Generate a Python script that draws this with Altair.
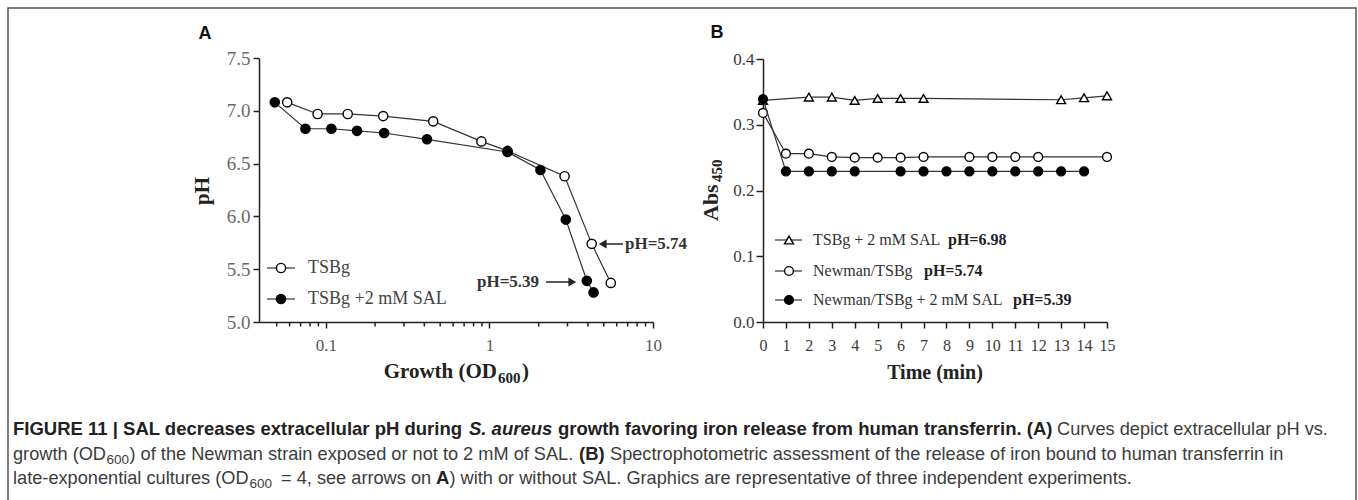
import altair as alt
import pandas as pd

# ---------------- Panel A data: pH vs growth (OD600) ----------------
a_tsbg_od = [0.058, 0.089, 0.136, 0.224, 0.453, 0.893, 1.29, 2.88, 4.22, 5.52]
a_tsbg_ph = [7.08, 6.97, 6.97, 6.95, 6.90, 6.71, 6.62, 6.38, 5.74, 5.37]
a_sal_od = [0.0487, 0.075, 0.108, 0.155, 0.227, 0.415, 1.29, 2.05, 2.93, 3.94, 4.33]
a_sal_ph = [7.08, 6.83, 6.83, 6.81, 6.79, 6.73, 6.61, 6.44, 5.97, 5.39, 5.28]
a_major_ticks = [0.1, 1, 10]
a_minor_ticks = [0.05, 0.06, 0.07, 0.08, 0.09, 0.2, 0.3, 0.4, 0.5, 0.6, 0.7, 0.8, 0.9,
                 2, 3, 4, 5, 6, 7, 8, 9]
a_y_ticks = [5.0, 5.5, 6.0, 6.5, 7.0, 7.5]

# ---------------- Panel B data: Abs450 vs time ----------------
b_tri_t = [0, 2, 3, 4, 5, 6, 7, 13, 14, 15]
b_tri_v = [0.337, 0.342, 0.342, 0.337, 0.340, 0.340, 0.340, 0.338, 0.341, 0.344]
b_open_t = [0, 1, 2, 3, 4, 5, 6, 7, 9, 10, 11, 12, 15]
b_open_v = [0.318, 0.256, 0.256, 0.251, 0.250, 0.250, 0.250, 0.251, 0.251, 0.251, 0.251, 0.251, 0.251]
b_fill_t = [0, 1, 2, 3, 4, 6, 7, 8, 9, 10, 11, 12, 13, 14]
b_fill_v = [0.339, 0.229, 0.229, 0.229, 0.229, 0.229, 0.229, 0.229, 0.229, 0.229, 0.229, 0.229, 0.229, 0.229]
b_x_ticks = list(range(0, 16))
b_y_ticks = [0.0, 0.1, 0.2, 0.3, 0.4]

dummy = pd.DataFrame({"d": [0]})
SERIF = "Liberation Serif"
SANS = "Liberation Sans"
INK = "#222222"

xA = alt.Scale(type="log", domain=[0.039, 10], range=[259, 653], nice=False)
yA = alt.Scale(domain=[5.0, 7.5], range=[322, 58], nice=False, zero=False)
xB = alt.Scale(domain=[0, 15], range=[763, 1107], nice=False, zero=False)
yB = alt.Scale(domain=[0, 0.4], range=[322, 59], nice=False, zero=False)

common_axis = dict(title=None, grid=False, tickWidth=1.5, tickColor=INK, domainColor=INK,
                   domainWidth=1.5, labelFont=SERIF, labelOverlap=False, labelFlush=False)

axA_x = alt.Axis(orient="bottom", offset=-178, values=a_major_ticks, format="~g", tickSize=6,
                 labelFontSize=17, labelColor="#555555", labelPadding=9, **common_axis)
axA_y = alt.Axis(orient="left", offset=-259, values=a_y_ticks, format=".1f", tickSize=6,
                 labelFontSize=19, labelColor="#6a6a6a", labelPadding=3, **common_axis)
axB_x = alt.Axis(orient="bottom", offset=-178, values=b_x_ticks, format="d", tickSize=6,
                 labelFontSize=16, labelColor="#3a3a3a", labelPadding=9, **common_axis)
axB_y = alt.Axis(orient="left", offset=-763, values=b_y_ticks, format=".1f", tickSize=7,
                 labelFontSize=17, labelColor="#3a3a3a", labelPadding=2, **common_axis)

LINE = dict(color="#333333", strokeWidth=1.2)


def series(df, xf, yf, xs, ys, shape, filled, size, axx=None, axy=None):
    line = alt.Chart(df).mark_line(**LINE).encode(
        x=alt.X(f"{xf}:Q", scale=xs, axis=axx),
        y=alt.Y(f"{yf}:Q", scale=ys, axis=axy),
    )
    pts = alt.Chart(df).mark_point(
        shape=shape, filled=True, fill=("black" if filled else "white"),
        stroke="black", strokeWidth=1.4, size=size, opacity=1,
    ).encode(
        x=alt.X(f"{xf}:Q", scale=xs, axis=None),
        y=alt.Y(f"{yf}:Q", scale=ys, axis=None),
    )
    return [line, pts]


def txt(s, x, y, size, font=SERIF, weight="normal", style="normal", color="#333333",
        align="left", baseline="alphabetic", angle=0):
    return alt.Chart(dummy).mark_text(
        text=s, align=align, baseline=baseline, font=font, fontSize=size,
        fontWeight=weight, fontStyle=style, color=color, angle=angle,
    ).encode(x=alt.value(x), y=alt.value(y))


def hline(x1, x2, y, color="#333333", width=1.2):
    return alt.Chart(dummy).mark_rule(color=color, strokeWidth=width).encode(
        x=alt.value(x1), x2=alt.value(x2), y=alt.value(y))


def sym(x, y, shape, fill, size, stroke="black"):
    return alt.Chart(dummy).mark_point(
        shape=shape, filled=True, fill=fill, stroke=stroke, strokeWidth=1.4, size=size, opacity=1,
    ).encode(x=alt.value(x), y=alt.value(y))


layers = []

# frame
layers.append(alt.Chart(dummy).mark_rect(fill=None, stroke="#555555", strokeWidth=1.5).encode(
    x=alt.value(8), x2=alt.value(1356), y=alt.value(8), y2=alt.value(600)))

# ---------------- Panel A ----------------
dfA1 = pd.DataFrame({"od": a_tsbg_od, "ph": a_tsbg_ph})
dfA2 = pd.DataFrame({"od": a_sal_od, "ph": a_sal_ph})
dfMinor = pd.DataFrame({"m": a_minor_ticks})
layers += series(dfA1, "od", "ph", xA, yA, "circle", False, 85, axA_x, axA_y)
layers += series(dfA2, "od", "ph", xA, yA, "circle", True, 85)
layers.append(alt.Chart(dfMinor).mark_rule(color=INK, strokeWidth=1.5).encode(
    x=alt.X("m:Q", scale=xA, axis=None), y=alt.value(322), y2=alt.value(326.5)))

layers.append(txt("A", 205, 34, 18, font=SANS, weight="bold", color="#111111",
                  align="center", baseline="middle"))
layers.append(txt("pH", 209, 191, 21, weight="bold", color="#222222", align="center",
                  baseline="alphabetic", angle=270))
layers.append(txt("Growth (OD", 497, 378, 21, weight="bold", color="#222222", align="right"))
layers.append(txt("600", 498, 383, 15, weight="bold", color="#222222", align="left"))
layers.append(txt(")", 522, 378, 21, weight="bold", color="#222222", align="left"))

# legend A
layers.append(hline(267, 295, 268))
layers.append(sym(281, 268, "circle", "white", 85))
layers.append(txt("TSBg", 308, 268, 18, color="#444444", baseline="middle"))
layers.append(hline(267, 295, 299))
layers.append(sym(281, 299, "circle", "black", 85))
layers.append(txt("TSBg +2 mM SAL", 308, 299, 18, color="#444444", baseline="middle"))

# annotations A
layers.append(hline(604, 623, 244, color="#222222", width=1.5))
layers.append(sym(603, 244, "triangle-left", "#222222", 45, stroke="#222222"))
layers.append(txt("pH=5.74", 625, 244, 17, weight="bold", color="#333333", baseline="middle"))
layers.append(hline(546, 571, 282, color="#222222", width=1.5))
layers.append(sym(572, 282, "triangle-right", "#222222", 45, stroke="#222222"))
layers.append(txt("pH=5.39", 477, 282, 17, weight="bold", color="#333333", baseline="middle"))

# ---------------- Panel B ----------------
dfB1 = pd.DataFrame({"t": b_tri_t, "v": b_tri_v})
dfB2 = pd.DataFrame({"t": b_open_t, "v": b_open_v})
dfB3 = pd.DataFrame({"t": b_fill_t, "v": b_fill_v})
layers += series(dfB1, "t", "v", xB, yB, "triangle-up", False, 80, axB_x, axB_y)
layers += series(dfB2, "t", "v", xB, yB, "circle", False, 78)
layers += series(dfB3, "t", "v", xB, yB, "circle", True, 78)

layers.append(txt("B", 717, 33, 18, font=SANS, weight="bold", color="#111111",
                  align="center", baseline="middle"))
layers.append(txt("Abs", 718, 221, 22, weight="bold", color="#222222", align="left",
                  baseline="alphabetic", angle=270))
layers.append(txt("450", 722, 182, 15, weight="bold", color="#222222", align="left",
                  baseline="alphabetic", angle=270))
layers.append(txt("Time (min)", 935, 379, 20, weight="bold", color="#222222", align="center"))

# legend B
leg_rows = [
    (240, "triangle-up", "white", 80, "TSBg + 2 mM SAL", "pH=6.98", 948),
    (271, "circle", "white", 78, "Newman/TSBg", "pH=5.74", 924),
    (300, "circle", "black", 78, "Newman/TSBg + 2 mM SAL", "pH=5.39", 1013),
]
for yy, shp, fl, sz, lab, ph, phx in leg_rows:
    layers.append(hline(775, 802, yy))
    layers.append(sym(789, yy, shp, fl, sz))
    layers.append(txt(lab, 813, yy, 16, color="#333333", baseline="middle"))
    layers.append(txt(ph, phx, yy, 16, weight="bold", color="#222222", baseline="middle"))

# ---------------- Caption ----------------
CAPB = 18.5
CAP = 18.2
SUB = 13.5
CB = "#222222"
CR = "#3c3c3c"
y1, y2, y3 = 435, 459.5, 484
layers += [
    txt("FIGURE 11 | SAL decreases extracellular pH during", 13, y1, CAPB, font=SANS, weight="bold", color=CB),
    txt("S. aureus", 469, y1, CAPB, font=SANS, weight="bold", style="italic", color=CB),
    txt("growth favoring iron release from human transferrin. (A)", 558, y1, CAPB, font=SANS, weight="bold", color=CB),
    txt("Curves depict extracellular pH vs.", 1057, y1, CAP, font=SANS, color=CR),
    txt("growth (OD", 13, y2, CAP, font=SANS, color=CR),
    txt("600", 106.5, y2 + 4, SUB, font=SANS, color=CR),
    txt(") of the Newman strain exposed or not to 2 mM of SAL.", 129.5, y2, CAP, font=SANS, color=CR),
    txt("(B)", 579, y2, CAPB, font=SANS, weight="bold", color=CB),
    txt("Spectrophotometric assessment of the release of iron bound to human transferrin in", 610, y2, CAP, font=SANS, color=CR),
    txt("late-exponential cultures (OD", 13, y3, CAP, font=SANS, color=CR),
    txt("600", 249.5, y3 + 4, SUB, font=SANS, color=CR),
    txt("= 4, see arrows on", 281, y3, CAP, font=SANS, color=CR),
    txt("A", 436, y3, CAPB, font=SANS, weight="bold", color=CB),
    txt(") with or without SAL. Graphics are representative of three independent experiments.", 449.5, y3, CAP, font=SANS, color=CR),
]

chart = alt.layer(*layers).resolve_scale(x="independent", y="independent").properties(
    width=1358, height=500, padding=0, autosize="none", background="white"
).configure_view(stroke=None)

chart.save("out.html", embed_options={"renderer": "svg", "actions": False})
